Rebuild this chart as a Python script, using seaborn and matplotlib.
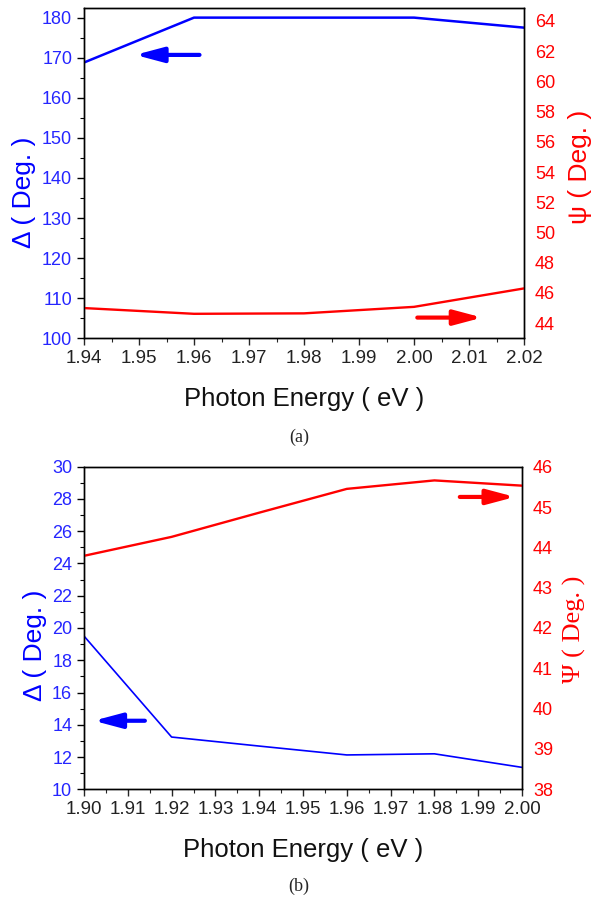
import matplotlib
matplotlib.use("Agg")
import matplotlib.pyplot as plt
import seaborn as sns
import pandas as pd
from matplotlib.ticker import MultipleLocator, AutoMinorLocator

# ---- data ----
energy_a = [1.94, 1.96, 1.98, 2.00, 2.02]
delta_a = [168.8, 180.0, 180.0, 180.0, 177.5]
psi_a = [45.0, 44.62, 44.65, 45.08, 46.3]

energy_b = [1.90, 1.92, 1.94, 1.96, 1.98, 2.00]
delta_b = [19.5, 13.24, 12.68, 12.13, 12.2, 11.36]
psi_b = [43.79, 44.26, 44.86, 45.45, 45.66, 45.53]

xticks_a = [1.94, 1.95, 1.96, 1.97, 1.98, 1.99, 2.00, 2.01, 2.02]
xticks_b = [1.90, 1.91, 1.92, 1.93, 1.94, 1.95, 1.96, 1.97, 1.98, 1.99, 2.00]

BLUE = "#0000ff"
BLUE_T = "#2525ff"
RED = "#ff0000"

sns.set_style("ticks")
plt.rcParams["font.family"] = ["Liberation Sans", "DejaVu Sans"]

fig = plt.figure(figsize=(5.93, 9.0), dpi=100)

ARROW = "-|>,head_length=1.2,head_width=0.32"

def panel(rect, x, d, p, xticks, ylim_l, ystep_l, ylim_r, ystep_r, psi_label, psi_font,
          larrow, rarrow, lw_b, lcoords, rcoords):
    ax = fig.add_axes(rect)
    df = pd.DataFrame({"E": x, "D": d, "P": p})
    sns.lineplot(data=df, x="E", y="D", ax=ax, color=BLUE, lw=lw_b)
    ax.set_xlim(xticks[0], xticks[-1])
    ax.set_ylim(*ylim_l)
    ax.set_xticks(xticks)
    ax.set_xticklabels([f"{t:.2f}" for t in xticks])
    ax.xaxis.set_minor_locator(AutoMinorLocator(2))
    ax.yaxis.set_major_locator(MultipleLocator(ystep_l))
    ax.yaxis.set_minor_locator(AutoMinorLocator(2))
    ax.tick_params(axis="y", which="both", direction="out", labelcolor=BLUE_T, labelsize=13, color="black")
    ax.tick_params(axis="x", which="both", direction="out", labelcolor="#222222", labelsize=13.5)
    ax.tick_params(which="major", length=5, width=1)
    ax.tick_params(which="minor", length=3, width=0.8)
    ax.set_xlabel("Photon Energy ( eV )", fontsize=18.5, labelpad=14, color="#111111")
    ax.set_ylabel("Δ ( Deg. )", fontsize=19, color=BLUE)
    ax.yaxis.set_label_coords(*lcoords)
    for s in ax.spines.values():
        s.set_color("black")
        s.set_linewidth(1.0)
    ax.annotate("", xy=larrow[1], xytext=larrow[0], xycoords="data",
                arrowprops=dict(arrowstyle=ARROW, lw=3.0, mutation_scale=14,
                                color=BLUE, shrinkA=0, shrinkB=0))

    ax2 = ax.twinx()
    sns.lineplot(data=df, x="E", y="P", ax=ax2, color=RED, lw=1.7)
    ax2.set_ylim(*ylim_r)
    ax2.yaxis.set_major_locator(MultipleLocator(ystep_r))
    ax2.tick_params(axis="y", which="both", direction="out", labelcolor=RED, labelsize=13,
                    color="black", length=0, pad=8)
    ax2.set_ylabel(psi_label, fontsize=19, color=RED, rotation=90, **psi_font)
    ax2.yaxis.set_label_coords(*rcoords)
    ax2.set_xlabel("")
    ax2.annotate("", xy=rarrow[1], xytext=rarrow[0], xycoords="data",
                 arrowprops=dict(arrowstyle=ARROW, lw=3.0, mutation_scale=14,
                                 color=RED, shrinkA=0, shrinkB=0))
    for s in ax2.spines.values():
        s.set_color("black")
        s.set_linewidth(1.0)
    return ax, ax2

panel([84/593, 1 - 338.3/900, 440/593, 330.3/900], energy_a, delta_a, psi_a, xticks_a,
      (100, 182.4), 10, (43.0, 64.85), 2, "ψ ( Deg. )", {},
      ((1.961, 170.7), (1.9493, 170.7)), ((2.0006, 44.37), (2.0124, 44.37)), 1.8,
      (-0.109, 0.443), (1.10, 0.52))

panel([84/593, 1 - 789.3/900, 438/593, 322.6/900], energy_b, delta_b, psi_b, xticks_b,
      (10, 30), 2, (38, 46), 1, "Ψ ( Deg. )", {"family": ["Liberation Serif", "DejaVu Serif"]},
      ((1.9139, 14.25), (1.9022, 14.25)), ((1.9858, 45.25), (1.9984, 45.25)), 1.2,
      (-0.0845, 0.447), (1.094, 0.497))

fig.text(299/593, 1 - 437/900, "(a)", ha="center", va="center", fontsize=13,
         family=["Liberation Serif", "DejaVu Serif"])
fig.text(299/593, 1 - 886/900, "(b)", ha="center", va="center", fontsize=13,
         family=["Liberation Serif", "DejaVu Serif"])

fig.savefig("out.png", dpi=100)
